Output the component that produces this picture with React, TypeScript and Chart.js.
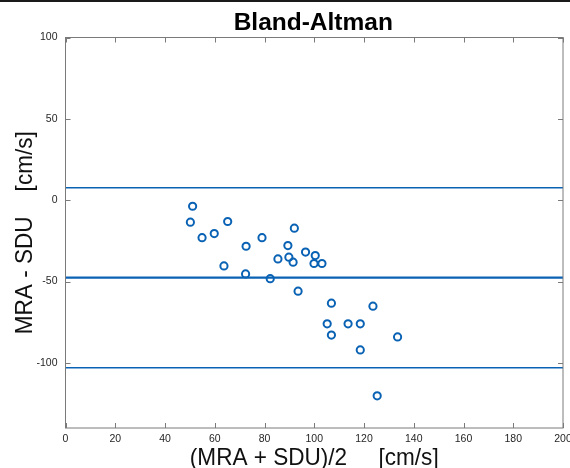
import React, { useEffect, useRef } from "react";
import { Chart, registerables } from "chart.js";

Chart.register(...registerables);

// Mean of the two methods (x) and their difference (y), cm/s
const meanValues = [
  51.1, 50.2, 54.9, 59.8, 65.2, 63.7, 72.6, 72.4, 79.0, 82.3, 85.4, 89.4, 92.0, 89.8, 91.5,
  96.5, 100.4, 99.9, 103.1, 93.5, 106.9, 123.6, 105.2, 113.6, 118.5, 106.9, 133.5, 118.5, 125.3,
];
const diffValues = [
  -3.7, -13.5, -23.0, -20.5, -13.1, -40.4, -28.3, -45.3, -23.0, -48.2, -36.1, -27.9, -17.2, -35.0, -38.1,
  -31.9, -34.0, -38.9, -38.9, -55.9, -63.3, -65.1, -76.0, -76.0, -76.0, -82.9, -84.0, -92.0, -120.2,
];
const upperLimit = 7.7;
const meanDiff = -47.6;
const lowerLimit = -102.9;

const xTicks = [0, 20, 40, 60, 80, 100, 120, 140, 160, 180, 200];
const yTicks = [-100, -50, 0, 50, 100];
const xRange = [0, 200];
const yRange = [-140, 100];

const titleText = "Bland-Altman";
const xTitle = "(MRA + SDU)/2     [cm/s]";
const yTitle = "MRA - SDU    [cm/s]";

const BLUE = "#0a62b4";
const FONT = "'Liberation Sans', Arial, Helvetica, sans-serif";

export default function App() {
  const ref = useRef<HTMLCanvasElement | null>(null);

  useEffect(() => {
    document.body.style.margin = "0";
    const canvas = ref.current;
    if (!canvas) return;

    const hLine = (y: number) => [
      { x: xRange[0], y },
      { x: xRange[1], y },
    ];

    const decor = {
      id: "decor",
      afterDraw(chart: any) {
        const { ctx, chartArea: a } = chart;
        const xs = chart.scales.x;
        const ys = chart.scales.y;
        ctx.save();
        // top dark rule
        ctx.fillStyle = "#1a1a1a";
        ctx.fillRect(0, 0, chart.width, 2);
        // frame
        ctx.strokeStyle = "#7a7a7a";
        ctx.lineWidth = 1;
        ctx.strokeRect(a.left, a.top, a.right - a.left, a.bottom - a.top);
        // inner ticks
        const tl = 5;
        ctx.beginPath();
        xTicks.forEach((v) => {
          const px = Math.round(xs.getPixelForValue(v)) + 0.5;
          ctx.moveTo(px, a.bottom);
          ctx.lineTo(px, a.bottom - tl);
          ctx.moveTo(px, a.top);
          ctx.lineTo(px, a.top + tl);
        });
        yTicks.forEach((v) => {
          const py = Math.round(ys.getPixelForValue(v)) + 0.5;
          ctx.moveTo(a.left, py);
          ctx.lineTo(a.left + tl, py);
          ctx.moveTo(a.right, py);
          ctx.lineTo(a.right - tl, py);
        });
        ctx.stroke();
        // title
        ctx.fillStyle = "#000";
        ctx.font = `bold 24.5px ${FONT}`;
        ctx.textAlign = "center";
        ctx.textBaseline = "alphabetic";
        ctx.fillText(titleText, (a.left + a.right) / 2 - 1, 29.5);
        // axis titles (slightly condensed, like the original rendering)
        const sx = 0.94;
        ctx.font = `24px ${FONT}`;
        ctx.fillStyle = "#111";
        ctx.save();
        ctx.translate((a.left + a.right) / 2, 465);
        ctx.scale(sx, 1);
        ctx.fillText(xTitle, 0, 0);
        ctx.restore();
        ctx.save();
        ctx.translate(32, (a.top + a.bottom) / 2);
        ctx.rotate(-Math.PI / 2);
        ctx.scale(sx, 1);
        ctx.fillText(yTitle, 0, 0);
        ctx.restore();
        ctx.restore();
      },
    };

    const chart = new Chart(canvas, {
      type: "scatter",
      data: {
        datasets: [
          {
            label: "Differences",
            data: meanValues.map((x, i) => ({ x, y: diffValues[i] })),
            pointRadius: 3.6,
            pointBorderWidth: 2,
            pointBorderColor: BLUE,
            pointBackgroundColor: "rgba(255,255,255,0)",
            showLine: false,
          },
          {
            label: "Upper limit",
            data: hLine(upperLimit),
            showLine: true,
            borderColor: BLUE,
            borderWidth: 1.5,
            pointRadius: 0,
          },
          {
            label: "Mean",
            data: hLine(meanDiff),
            showLine: true,
            borderColor: BLUE,
            borderWidth: 2.2,
            pointRadius: 0,
          },
          {
            label: "Lower limit",
            data: hLine(lowerLimit),
            showLine: true,
            borderColor: BLUE,
            borderWidth: 1.5,
            pointRadius: 0,
          },
        ],
      },
      options: {
        animation: false,
        responsive: false,
        maintainAspectRatio: false,
        layout: { padding: { top: 37.5, right: 7, left: 0, bottom: 0 } },
        plugins: {
          legend: { display: false },
          tooltip: { enabled: false },
          title: { display: false },
        },
        scales: {
          x: {
            type: "linear",
            min: xRange[0],
            max: xRange[1],
            grid: { display: false, drawTicks: false },
            border: { display: false },
            afterBuildTicks: (s: any) => {
              s.ticks = xTicks.map((v) => ({ value: v }));
            },
            afterFit: (s: any) => {
              s.height = 40;
              s.paddingLeft = 0;
              s.paddingRight = 0;
            },
            ticks: {
              padding: 4.5,
              color: "#262626",
              font: { family: FONT, size: 10.5 },
              maxRotation: 0,
            },
          },
          y: {
            type: "linear",
            min: yRange[0],
            max: yRange[1],
            grid: { display: false, drawTicks: false },
            border: { display: false },
            afterBuildTicks: (s: any) => {
              s.ticks = yTicks.map((v) => ({ value: v }));
            },
            afterFit: (s: any) => {
              s.width = 65.5;
              s.paddingTop = 0;
              s.paddingBottom = 0;
            },
            ticks: {
              padding: 8,
              color: "#262626",
              font: { family: FONT, size: 10.5 },
            },
          },
        },
      },
      plugins: [decor],
    } as any);

    return () => chart.destroy();
  }, []);

  return (
    <div style={{ width: 570, height: 468, background: "#fff" }}>
      <canvas ref={ref} width={570} height={468} style={{ display: "block" }} />
    </div>
  );
}
